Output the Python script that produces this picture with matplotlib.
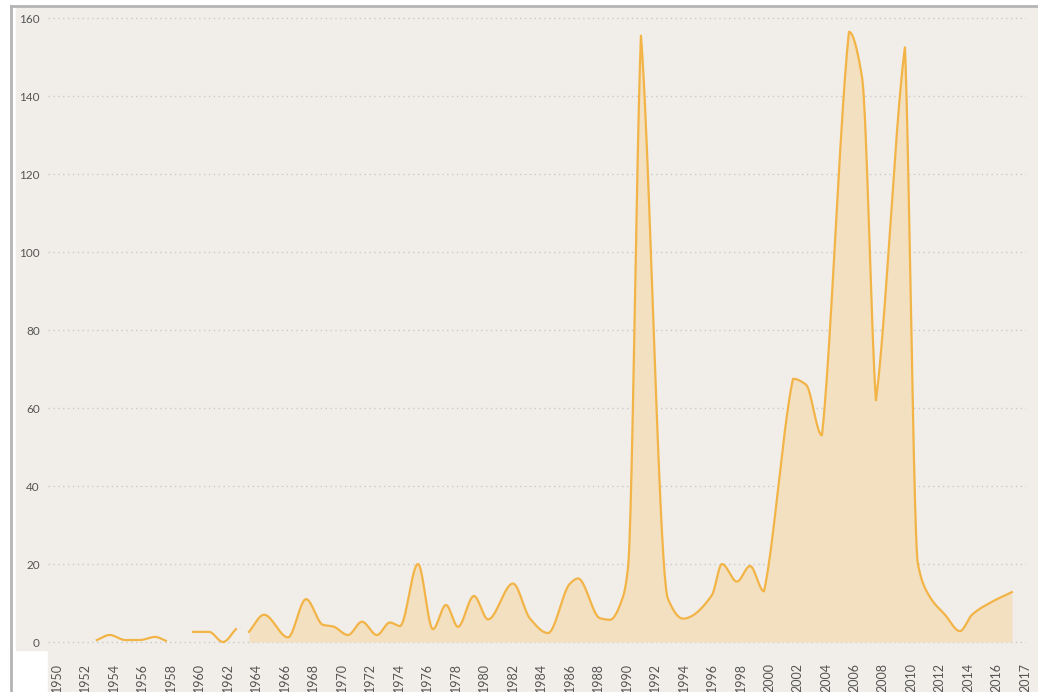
import numpy as np
import matplotlib
matplotlib.use('Agg')
import matplotlib.pyplot as plt
from matplotlib.lines import Line2D
from matplotlib.patches import Rectangle

plt.rcParams['font.family'] = ['Lato', 'DejaVu Sans']

# series (x = year position, y = count)
seg1_years = [1952.8, 1953.7, 1954.8, 1955.8, 1956.9, 1957.65]
seg1_vals = [0.5, 1.8, 0.5, 0.5, 1.3, 0.3]

seg2_years = [1959.55, 1960.67, 1961.66, 1962.57]
seg2_vals = [2.6, 2.6, 0.0, 3.3]

main_years = [1963.48, 1964.54, 1966.22, 1967.49, 1968.68, 1969.38, 1970.44,
              1971.42, 1972.47, 1973.38, 1974.09, 1975.35, 1976.40, 1977.32,
              1978.16, 1979.28, 1980.27, 1982.02, 1983.22, 1984.48, 1986.03,
              1986.59, 1988.13, 1988.83, 1989.75, 1990.10, 1991.01, 1992.91,
              1993.96, 1995.99, 1996.70, 1997.75, 1998.67, 1999.65, 2001.69,
              2002.60, 2003.72, 2005.62, 2006.53, 2007.51, 2009.55, 2010.46,
              2011.31, 2012.36, 2013.41, 2014.26, 2015.60, 2017.06]
main_vals = [2.6, 7.0, 1.2, 11.0, 4.4, 4.0, 1.8,
             5.2, 1.8, 5.0, 4.1, 20.0, 3.3, 9.5,
             3.9, 11.8, 5.8, 15.0, 6.0, 2.3, 15.0,
             16.3, 6.1, 5.7, 11.6, 19.0, 155.5, 11.0,
             6.0, 12.0, 20.0, 15.5, 19.5, 13.0, 67.5,
             66.0, 53.0, 156.5, 145.0, 62.0, 152.5, 20.0,
             11.5, 7.0, 2.8, 7.0, 10.2, 12.8]

tick_years = list(range(1950, 2017, 2))
tick_labels = [str(y) for y in tick_years]
last_label = '2017'

LINE = '#f2b447'
FILL = '#f3e0c0'
BG = '#f1eeea'


def smooth_curve(x, y, n=40, steep=25.0):
    # monotone cubic, but steep extrema become sharp cusps
    x = np.asarray(x, float)
    y = np.asarray(y, float)
    h = np.diff(x)
    d = np.diff(y) / h
    mL = np.zeros_like(y)
    mR = np.zeros_like(y)
    for k in range(1, len(x) - 1):
        if d[k - 1] * d[k] > 0:
            w1 = 2 * h[k] + h[k - 1]
            w2 = h[k] + 2 * h[k - 1]
            mL[k] = mR[k] = (w1 + w2) / (w1 / d[k - 1] + w2 / d[k])
        else:
            if abs(d[k - 1]) > steep:
                mL[k] = 0.6 * d[k - 1]
            if abs(d[k]) > steep:
                mR[k] = 0.6 * d[k]
    mL[0] = mR[0] = d[0]
    mL[-1] = mR[-1] = d[-1]
    xs, ys = [], []
    for k in range(len(x) - 1):
        t = np.linspace(0, 1, n, endpoint=False)
        h00 = 2 * t**3 - 3 * t**2 + 1
        h10 = t**3 - 2 * t**2 + t
        h01 = -2 * t**3 + 3 * t**2
        h11 = t**3 - t**2
        xs.append(x[k] + t * h[k])
        ys.append(h00 * y[k] + h10 * h[k] * mR[k] + h01 * y[k + 1] + h11 * h[k] * mL[k + 1])
    xs.append([x[-1]])
    ys.append([y[-1]])
    return np.concatenate(xs), np.concatenate(ys)


W, H = 1038, 692
fig = plt.figure(figsize=(W / 100, H / 100), dpi=100, facecolor='white')

# background panels and frame (behind the axes)
fig.patches.append(Rectangle((16 / W, 1 - 650 / H), (W - 16) / W, 642 / H,
                             transform=fig.transFigure, color=BG, zorder=-5))
fig.patches.append(Rectangle((48 / W, 0), (W - 48) / W, 42 / H,
                             transform=fig.transFigure, color=BG, zorder=-5))
fig.lines.append(Line2D([10.5 / W, 10.5 / W], [0, 1 - 5.5 / H],
                        transform=fig.transFigure, color='#b4b4b4', lw=2, zorder=-4))
fig.lines.append(Line2D([10.5 / W, 1], [1 - 5.5 / H, 1 - 5.5 / H],
                        transform=fig.transFigure, color='#b4b4b4', lw=2, zorder=-4))

ax = fig.add_axes([48 / W, 1 - 650 / H, (1026 - 48) / W, 642 / H])
ax.set_zorder(1)
ax.set_facecolor(BG)
for s in ax.spines.values():
    s.set_visible(False)

for xs_, ys_, filled in [(seg1_years, seg1_vals, False),
                         (seg2_years, seg2_vals, False),
                         (main_years, main_vals, True)]:
    sx, sy = smooth_curve(xs_, ys_)
    if filled:
        ax.fill_between(sx, 0, sy, color=FILL, lw=0, zorder=1)
    ax.plot(sx, sy, color=LINE, lw=1.6, zorder=3, solid_joinstyle='round')

ax.set_xlim(1949.37, 2018.05)
ax.set_ylim(-2.05, 162.6)

ax.set_yticks(range(0, 161, 20))
ax.yaxis.grid(True, color='#c9c9c9', linestyle=(0, (1, 2.5)), lw=1)
ax.set_axisbelow(True)
ax.tick_params(axis='y', length=0, pad=6, labelsize=8.5, labelcolor='#555555')

ax.set_xticks(tick_years + [2018.0])
ax.set_xticklabels(tick_labels + [last_label], rotation=90)
ax.tick_params(axis='x', length=0, pad=9, labelsize=9, labelcolor='#555555')

fig.savefig('out.png', dpi=100, facecolor='white')
